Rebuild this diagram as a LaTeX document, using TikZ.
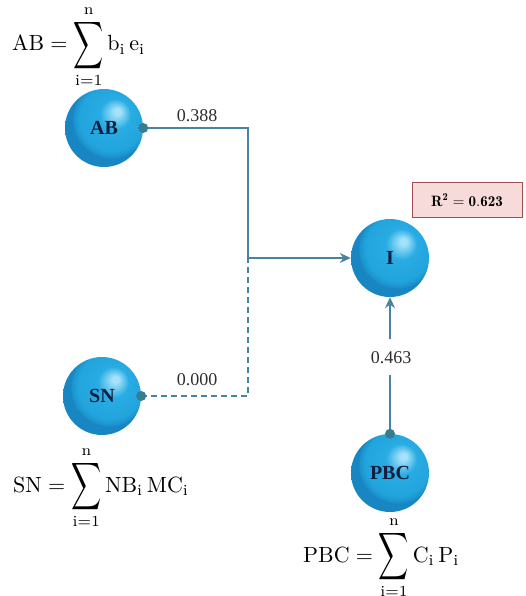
\documentclass[tikz,border=0pt]{standalone}
\usepackage{amsmath}
\usepackage{graphicx}
\usepackage{fontspec}
\newfontfamily\labfont{Liberation Serif}
\usetikzlibrary{arrows.meta}
\definecolor{sphhi}{RGB}{165,226,250}
\definecolor{sphmid}{RGB}{40,172,227}
\definecolor{sphmidb}{RGB}{34,164,221}
\definecolor{sphrim}{RGB}{28,148,205}
\definecolor{sphedge}{RGB}{24,134,194}
\definecolor{conncol}{RGB}{72,132,162}
\definecolor{dotcol}{RGB}{55,125,145}
\definecolor{labcol}{RGB}{22,30,62}
\definecolor{boxfill}{RGB}{247,218,218}
\definecolor{boxdraw}{RGB}{160,80,80}
\pgfdeclareradialshading{sphereshade}{\pgfpoint{9bp}{11bp}}{color(0bp)=(sphhi); color(2bp)=(sphhi); color(10bp)=(sphmid); color(21bp)=(sphmidb); color(24bp)=(sphrim); color(25bp)=(sphedge); color(50bp)=(sphedge)}
\newcommand{\bigsumop}{\mathop{\vcenter{\hbox{\scalebox{0.95}[1.5]{$\displaystyle\sum$}}}}\limits}
\newcommand{\fml}[1]{\scalebox{2.2}{$#1$}}
\begin{document}
\begin{tikzpicture}[x=1pt,y=-1pt,
  sphere/.style={circle, minimum size=78pt, inner sep=0pt, shading=sphereshade, font=\labfont\fontsize{20}{22}\selectfont\bfseries, text=labcol},
  conn/.style={draw=conncol, line width=1.4pt},
  tip/.style={-{Stealth[length=11pt,width=10pt]}},
  numlab/.style={font=\labfont\fontsize{18}{21}\selectfont, text=black!82},
  formula/.style={anchor=base west, inner sep=0pt},
  dotc/.style={fill=dotcol}
]
\useasboundingbox (0,0) rectangle (525,596);

\node[sphere] (AB) at (104,128) {AB};
\node[sphere] (SN) at (102,396) {SN};
\node[sphere] (I) at (390,258) {I};
\node[sphere] (PBC) at (390,473) {PBC};

\node[draw=boxdraw, fill=boxfill, line width=0.9pt, minimum width=110pt, minimum height=35pt, inner sep=0pt] (R2) at (467,200) {\scalebox{1.5}{$\mathbf{R^2 = 0.623}$}};

\coordinate (j) at (248,258);
\draw[conn,tip] (AB.east) -| (j) -- (I.west);
\draw[conn,dash pattern=on 6pt off 4pt] (SN.east) -| (j);

\node[numlab] (l388) at (197,116) {0.388};
\node[numlab] (l000) at (197,380) {0.000};
\node[numlab, inner xsep=2pt, inner ysep=0pt, text height=12pt, text depth=0pt, minimum height=35pt] (l463) at (391,357) {0.463};
\draw[conn] (PBC.north) -- (PBC.north |- l463.south);
\draw[conn,tip] (I.south |- l463.north) -- (I.south);

\fill[dotc] (AB.east) circle (5);
\fill[dotc] (SN.east) circle (5);
\fill[dotc] (PBC.north) circle (5);

\node[formula] (fAB) at (12,51) {\fml{\mathrm{AB} = \bigsumop_{\mathrm{i=1}}^{\mathrm{n}} \mathrm{b_i\,e_i}}};
\node[formula] (fSN) at (13,492) {\fml{\mathrm{SN} = \bigsumop_{\mathrm{i=1}}^{\mathrm{n}} \mathrm{NB_i\,MC_i}}};
\node[formula] (fPBC) at (303,562) {\fml{\mathrm{PBC} = \bigsumop_{\mathrm{i=1}}^{\mathrm{n}} \mathrm{C_i\,P_i}}};
\end{tikzpicture}
\end{document}
